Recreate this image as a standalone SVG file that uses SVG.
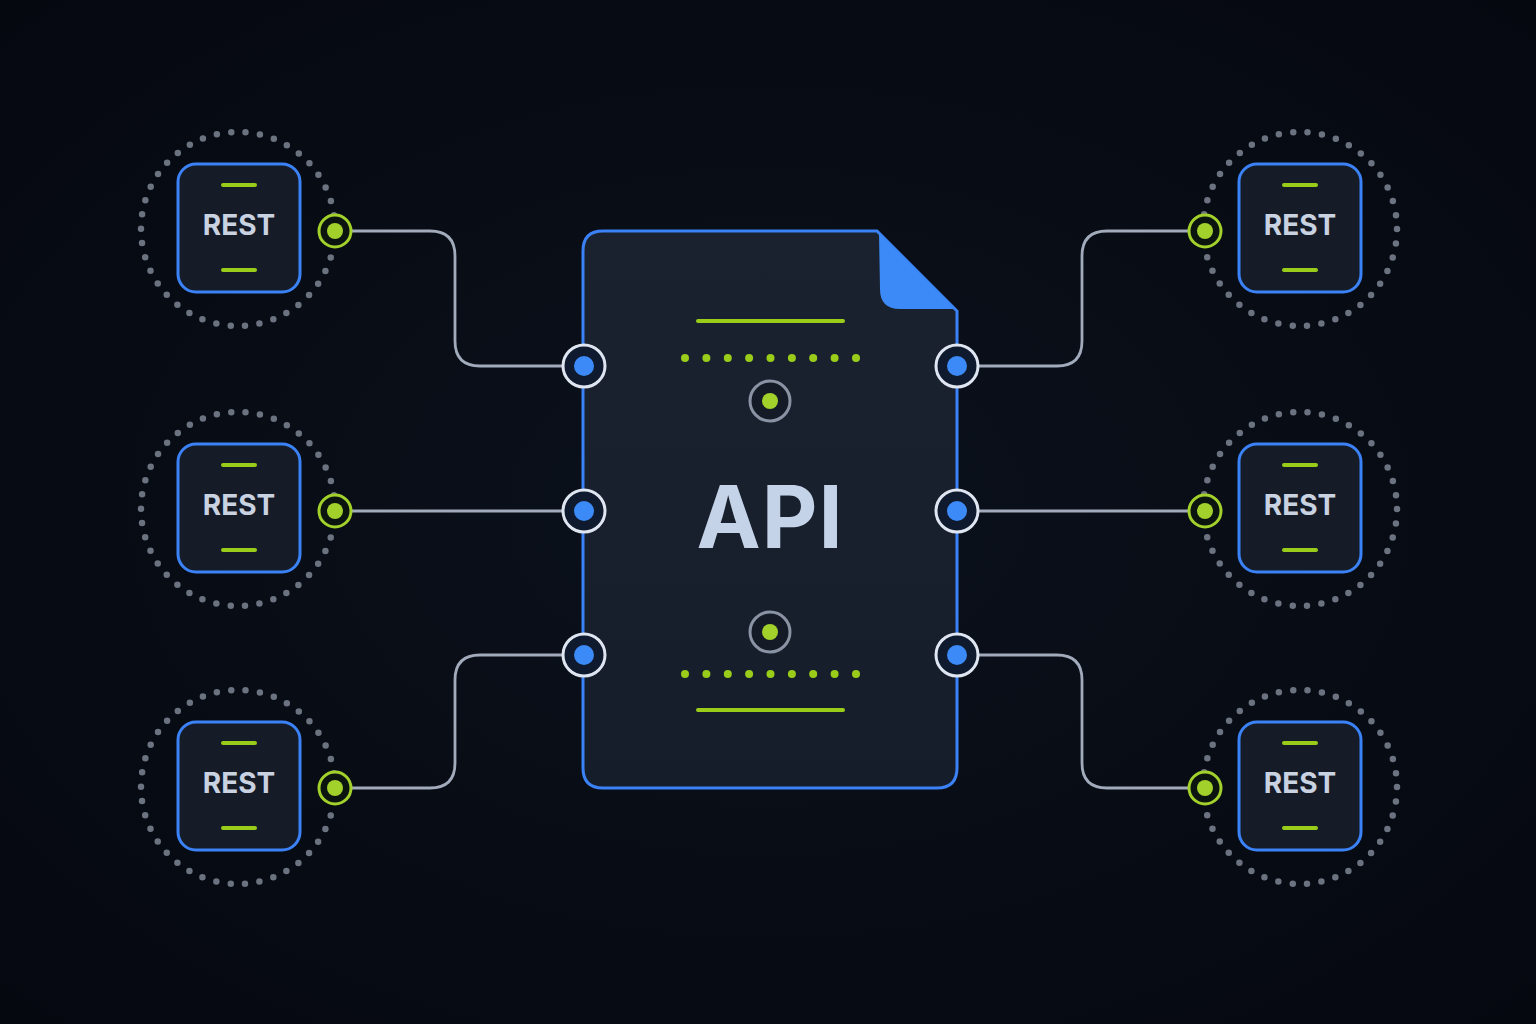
<svg xmlns="http://www.w3.org/2000/svg" width="1536" height="1024" viewBox="0 0 1536 1024">
<defs>
<radialGradient id="bg" cx="50%" cy="50%" r="70%">
<stop offset="0" stop-color="#0b111c"/>
<stop offset="1" stop-color="#05080f"/>
</radialGradient>
<linearGradient id="docfill" x1="0" y1="0" x2="0" y2="1">
<stop offset="0" stop-color="#1a2230"/>
<stop offset="1" stop-color="#161d2a"/>
</linearGradient>
<style>
.ring{fill:none;stroke:#6b7280;stroke-width:6.5;stroke-linecap:round;stroke-dasharray:0 14.5}
.box{fill:#151c28;stroke:#3b82f6;stroke-width:3}
.gl{stroke:#9acd1a;stroke-width:4;stroke-linecap:round}
.rest{font-family:Inter,"Liberation Sans",sans-serif;font-weight:700;font-size:28px;fill:#c8d2e0;text-anchor:middle}
.gp{fill:#0c1410;stroke:#a3d12b;stroke-width:3}
.gd{fill:#a3d12b}
.bp{fill:#0f1a2e;stroke:#dfe6f1;stroke-width:3}
.bd{fill:#3b8af7}
.conn{fill:none;stroke:#a2abbc;stroke-width:2.8}
.dot{fill:#9acd1a}
</style>
</defs>
<rect width="1536" height="1024" fill="url(#bg)"/>

<g id="connectors">
<path class="conn" d="M351,231 H430 Q455,231 455,256 V341 Q455,366 480,366 H563"/>
<path class="conn" d="M351,511 H563"/>
<path class="conn" d="M351,788 H430 Q455,788 455,763 V680 Q455,655 480,655 H563"/>
<path class="conn" d="M978,366 H1057 Q1082,366 1082,341 V256 Q1082,231 1107,231 H1189"/>
<path class="conn" d="M978,511 H1189"/>
<path class="conn" d="M978,655 H1057 Q1082,655 1082,680 V763 Q1082,788 1107,788 H1189"/>
</g>

<g id="api">
<path d="M603,231 H877 L957,311 V768 Q957,788 937,788 H603 Q583,788 583,768 V251 Q583,231 603,231 Z" fill="url(#docfill)" stroke="#3b82f6" stroke-width="3"/>
<path d="M879,233 L955,309 H900 Q880,309 880,289 Z" fill="#3b8af7"/>
<line class="gl" x1="698" y1="321" x2="843" y2="321"/>
<g class="dot">
<circle cx="685" cy="358" r="4"/><circle cx="706.4" cy="358" r="4"/><circle cx="727.8" cy="358" r="4"/><circle cx="749.1" cy="358" r="4"/><circle cx="770.5" cy="358" r="4"/><circle cx="791.9" cy="358" r="4"/><circle cx="813.2" cy="358" r="4"/><circle cx="834.6" cy="358" r="4"/><circle cx="856" cy="358" r="4"/>
</g>
<circle cx="770" cy="401" r="20" fill="#141b27" stroke="#8a93a3" stroke-width="3"/>
<circle cx="770" cy="401" r="8" class="gd"/>
<text x="770" y="548" font-family="Inter,'Liberation Sans',sans-serif" font-weight="700" font-size="86" fill="#c5d3e8" text-anchor="middle" letter-spacing="1">API</text>
<circle cx="770" cy="632" r="20" fill="#141b27" stroke="#8a93a3" stroke-width="3"/>
<circle cx="770" cy="632" r="8" class="gd"/>
<g class="dot">
<circle cx="685" cy="674" r="4"/><circle cx="706.4" cy="674" r="4"/><circle cx="727.8" cy="674" r="4"/><circle cx="749.1" cy="674" r="4"/><circle cx="770.5" cy="674" r="4"/><circle cx="791.9" cy="674" r="4"/><circle cx="813.2" cy="674" r="4"/><circle cx="834.6" cy="674" r="4"/><circle cx="856" cy="674" r="4"/>
</g>
<line class="gl" x1="698" y1="710" x2="843" y2="710"/>
<circle class="bp" cx="584" cy="366" r="21"/><circle class="bd" cx="584" cy="366" r="10"/>
<circle class="bp" cx="584" cy="511" r="21"/><circle class="bd" cx="584" cy="511" r="10"/>
<circle class="bp" cx="584" cy="655" r="21"/><circle class="bd" cx="584" cy="655" r="10"/>
<circle class="bp" cx="957" cy="366" r="21"/><circle class="bd" cx="957" cy="366" r="10"/>
<circle class="bp" cx="957" cy="511" r="21"/><circle class="bd" cx="957" cy="511" r="10"/>
<circle class="bp" cx="957" cy="655" r="21"/><circle class="bd" cx="957" cy="655" r="10"/>
</g>

<g id="rest-l1" transform="translate(239,228)">
<circle class="ring" cx="-1" cy="1" r="97"/>
<rect class="box" x="-61" y="-64" width="122" height="128" rx="18"/>
<line class="gl" x1="-16" y1="-43" x2="16" y2="-43"/>
<line class="gl" x1="-16" y1="42" x2="16" y2="42"/>
<text class="rest" x="0" y="7">REST</text>
<circle class="gp" cx="96" cy="3" r="16"/><circle class="gd" cx="96" cy="3" r="8"/>
</g>
<g id="rest-l2" transform="translate(239,508)">
<circle class="ring" cx="-1" cy="1" r="97"/>
<rect class="box" x="-61" y="-64" width="122" height="128" rx="18"/>
<line class="gl" x1="-16" y1="-43" x2="16" y2="-43"/>
<line class="gl" x1="-16" y1="42" x2="16" y2="42"/>
<text class="rest" x="0" y="7">REST</text>
<circle class="gp" cx="96" cy="3" r="16"/><circle class="gd" cx="96" cy="3" r="8"/>
</g>
<g id="rest-l3" transform="translate(239,786)">
<circle class="ring" cx="-1" cy="1" r="97"/>
<rect class="box" x="-61" y="-64" width="122" height="128" rx="18"/>
<line class="gl" x1="-16" y1="-43" x2="16" y2="-43"/>
<line class="gl" x1="-16" y1="42" x2="16" y2="42"/>
<text class="rest" x="0" y="7">REST</text>
<circle class="gp" cx="96" cy="2" r="16"/><circle class="gd" cx="96" cy="2" r="8"/>
</g>
<g id="rest-r1" transform="translate(1300,228)">
<circle class="ring" cx="0" cy="1" r="97"/>
<rect class="box" x="-61" y="-64" width="122" height="128" rx="18"/>
<line class="gl" x1="-16" y1="-43" x2="16" y2="-43"/>
<line class="gl" x1="-16" y1="42" x2="16" y2="42"/>
<text class="rest" x="0" y="7">REST</text>
<circle class="gp" cx="-95" cy="3" r="16"/><circle class="gd" cx="-95" cy="3" r="8"/>
</g>
<g id="rest-r2" transform="translate(1300,508)">
<circle class="ring" cx="0" cy="1" r="97"/>
<rect class="box" x="-61" y="-64" width="122" height="128" rx="18"/>
<line class="gl" x1="-16" y1="-43" x2="16" y2="-43"/>
<line class="gl" x1="-16" y1="42" x2="16" y2="42"/>
<text class="rest" x="0" y="7">REST</text>
<circle class="gp" cx="-95" cy="3" r="16"/><circle class="gd" cx="-95" cy="3" r="8"/>
</g>
<g id="rest-r3" transform="translate(1300,786)">
<circle class="ring" cx="0" cy="1" r="97"/>
<rect class="box" x="-61" y="-64" width="122" height="128" rx="18"/>
<line class="gl" x1="-16" y1="-43" x2="16" y2="-43"/>
<line class="gl" x1="-16" y1="42" x2="16" y2="42"/>
<text class="rest" x="0" y="7">REST</text>
<circle class="gp" cx="-95" cy="2" r="16"/><circle class="gd" cx="-95" cy="2" r="8"/>
</g>
</svg>
